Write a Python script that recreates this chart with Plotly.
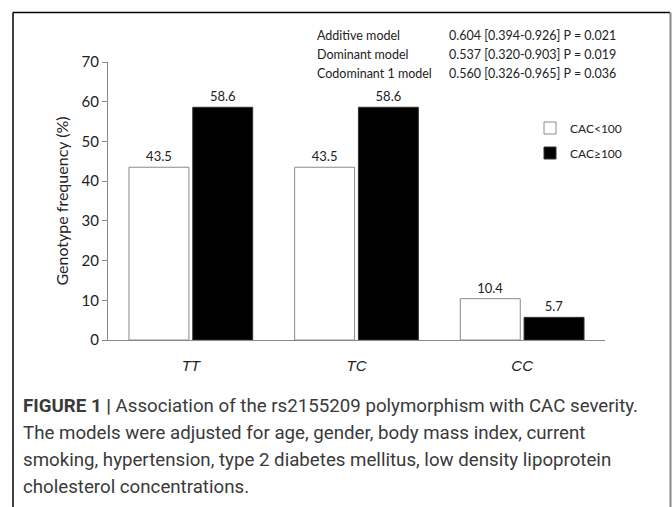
import plotly.graph_objects as go

categories = ["TT", "TC", "CC"]
cac_low = [43.5, 43.5, 10.4]
cac_high = [58.6, 58.6, 5.7]
series_names = ["CAC<100", "CAC≥100"]
y_ticks = [0, 10, 20, 30, 40, 50, 60, 70]

model_names = ["Additive model", "Dominant model", "Codominant 1 model"]
model_stats = ["0.604 [0.394-0.926] P = 0.021",
               "0.537 [0.320-0.903] P = 0.019",
               "0.560 [0.326-0.965] P = 0.036"]

caption_lines = [
    "<b>FIGURE 1 |</b> Association of the rs2155209 polymorphism with CAC severity.",
    "The models were adjusted for age, gender, body mass index, current",
    "smoking, hypertension, type 2 diabetes mellitus, low density lipoprotein",
    "cholesterol concentrations.",
]

W, H = 672, 507
L, R, T, B = 108, 67, 62, 167
pw, ph = W - L - R, H - T - B

def px(x):
    return (x - L) / pw

def py(y):
    return (H - B - y) / ph

chart_font = "Lato, Open Sans, sans-serif"

fig = go.Figure()
fig.add_trace(go.Bar(
    x=categories, y=cac_low, name=series_names[0],
    marker=dict(color="white", line=dict(color="#8a8a8a", width=1)),
    text=[f"{v:.1f}" for v in cac_low], textposition="outside",
    textfont=dict(family=chart_font, size=13, color="#222"),
    cliponaxis=False, legend="legend", showlegend=True,
))
fig.add_trace(go.Bar(
    x=categories, y=cac_high, name=series_names[1],
    marker=dict(color="black", line=dict(color="#333", width=1)),
    text=[f"{v:.1f}" for v in cac_high], textposition="outside",
    textfont=dict(family=chart_font, size=13, color="#222"),
    cliponaxis=False, legend="legend2", showlegend=True,
))

annotations = []
for i, (n, s) in enumerate(zip(model_names, model_stats)):
    yy = py(36 + 19 * i)
    annotations.append(dict(x=px(315), y=yy, xref="paper", yref="paper", text=n,
                            showarrow=False, xanchor="left", yanchor="middle",
                            font=dict(family=chart_font, size=12.5, color="#222")))
    annotations.append(dict(x=px(447), y=yy, xref="paper", yref="paper", text=s,
                            showarrow=False, xanchor="left", yanchor="middle",
                            font=dict(family=chart_font, size=12.5, color="#222")))

for i, line in enumerate(caption_lines):
    annotations.append(dict(x=px(21), y=py(406 + 27 * i), xref="paper", yref="paper",
                            text=line, showarrow=False, xanchor="left", yanchor="middle",
                            font=dict(family="Roboto, Liberation Sans, sans-serif", size=18.7,
                                      color="#3a3a3a")))

fig.update_layout(
    width=W, height=H,
    margin=dict(l=L, r=R, t=T, b=B),
    paper_bgcolor="white", plot_bgcolor="white",
    barmode="group", bargap=0.23, bargroupgap=0.06,
    showlegend=True,
    font=dict(family=chart_font, color="#222"),
    legend=dict(x=px(530), y=py(128), xanchor="left", yanchor="middle",
                font=dict(family=chart_font, size=12, color="#222"),
                bgcolor="rgba(0,0,0,0)", itemwidth=30, visible=True),
    legend2=dict(x=px(530), y=py(153), xanchor="left", yanchor="middle",
                 font=dict(family=chart_font, size=12, color="#222"),
                 bgcolor="rgba(0,0,0,0)", itemwidth=30, visible=True),
    annotations=annotations,
    shapes=[
        dict(type="line", xref="paper", yref="paper", x0=px(13), x1=px(13),
             y0=py(12.5), y1=py(520), line=dict(color="black", width=1.5)),
        dict(type="line", xref="paper", yref="paper", x0=px(13), x1=px(670),
             y0=py(12.5), y1=py(12.5), line=dict(color="black", width=1.5)),
        dict(type="line", xref="paper", yref="paper", x0=px(670.5), x1=px(670.5),
             y0=py(12.5), y1=py(520), line=dict(color="#888", width=2)),
    ],
)

fig.update_xaxes(
    type="category", tickvals=categories,
    ticktext=[f"<i>{c}</i>" for c in categories],
    tickfont=dict(family="Liberation Sans, Arial, sans-serif", size=15, color="#222"),
    showline=True, linecolor="#8a8a8a", linewidth=1,
    ticks="", ticklabelstandoff=12, showgrid=False, zeroline=False,
)
fig.update_yaxes(
    range=[0, 70], tickvals=y_ticks,
    tickfont=dict(family=chart_font, size=15, color="#222"),
    showline=True, linecolor="#8a8a8a", linewidth=1,
    ticks="outside", ticklen=5, tickcolor="#8a8a8a",
    showgrid=False, zeroline=False,
    title=dict(text="Genotype frequency (%)", standoff=8,
               font=dict(family=chart_font, size=16, color="#222")),
)

fig.write_html("out.html", config={"displayModeBar": False},
               post_script="document.body.style.margin='0';")
